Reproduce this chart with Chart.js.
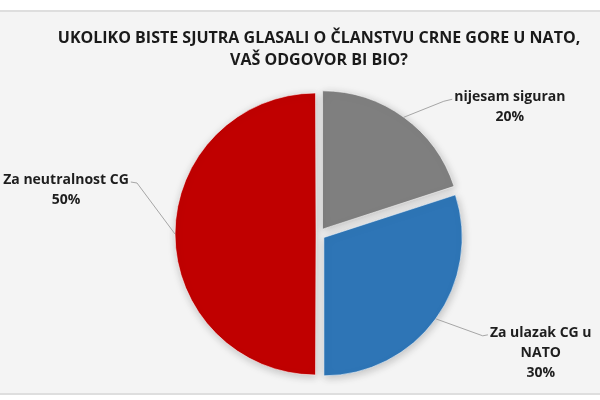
<!DOCTYPE html>
<html>
<head>
<meta charset="utf-8">
<script src="https://cdn.jsdelivr.net/npm/chart.js@4"></script>
<style>
    html, body { margin: 0; padding: 0; background: #fff; }
    #wrap { width: 600px; height: 400px; }
</style>
</head>
<body>
<div id="wrap"><canvas id="pieChart"></canvas></div>
<script>
    // Survey answers (percent)
    const answers = ['nijesam siguran', 'Za ulazak CG u NATO', 'Za neutralnost CG'];
    const shares = [20, 30, 50];
    // label text split over lines, as in the original
    const labelLines = [
        ['nijesam siguran', '20%'],
        ['Za ulazak CG u', 'NATO', '30%'],
        ['Za neutralnost CG', '50%']
    ];
    const sliceColors = ['#7f7f7f', '#2e75b6', '#c00000'];
    const titleLines = ['UKOLIKO BISTE SJUTRA GLASALI O ČLANSTVU CRNE GORE U NATO,', 'VAŠ ODGOVOR BI BIO?'];

    // Background with the thin frame lines
    const backgroundPlugin = {
        id: 'pageBackground',
        beforeDraw(chart) {
            const ctx = chart.ctx;
            ctx.save();
            ctx.fillStyle = '#ffffff';
            ctx.fillRect(0, 0, chart.width, chart.height);
            ctx.fillStyle = '#f4f4f4';
            ctx.fillRect(0, 10, chart.width, 384);
            ctx.fillStyle = '#dedede';
            ctx.fillRect(0, 10, chart.width, 2);
            ctx.fillRect(0, 393, chart.width, 2);
            ctx.restore();
        }
    };

    // Soft shadow under the slices
    const shadowPlugin = {
        id: 'sliceShadow',
        beforeDatasetDraw(chart) {
            const ctx = chart.ctx;
            ctx.save();
            ctx.shadowColor = 'rgba(0,0,0,0.22)';
            ctx.shadowBlur = 8;
            ctx.shadowOffsetX = 1;
            ctx.shadowOffsetY = 2;
        },
        afterDatasetDraw(chart) {
            chart.ctx.restore();
        }
    };

    // Leader lines and labels outside the pie
    // bend: offset of the elbow from the slice edge, text: offset of the text block
    const labelLayout = [
        { bend: [40, -16], text: [106, -20] },
        { bend: [47, 17], text: [105, 14] },
        { bend: [-38, -51], text: [-109, -54] }
    ];
    const outsideLabels = {
        id: 'outsideLabels',
        afterDatasetsDraw(chart) {
            const ctx = chart.ctx;
            const arcs = chart.getDatasetMeta(0).data;
            ctx.save();
            ctx.font = 'bold 14px "Open Sans", sans-serif';
            ctx.textAlign = 'center';
            ctx.textBaseline = 'middle';
            arcs.forEach((arc, i) => {
                const mid = (arc.startAngle + arc.endAngle) / 2;
                // same shift as the arc element uses when drawing an offset slice
                const circ = arc.endAngle - arc.startAngle;
                const base = (arc.options.offset || 0) / 4;
                const off = base + base * (1 - Math.sin(Math.min(Math.PI, circ)));
                const cx = arc.x + Math.cos(mid) * off;
                const cy = arc.y + Math.sin(mid) * off;
                const ex = cx + Math.cos(mid) * arc.outerRadius;
                const ey = cy + Math.sin(mid) * arc.outerRadius;
                const lay = labelLayout[i];
                const bx = ex + lay.bend[0];
                const by = ey + lay.bend[1];
                const tx = ex + lay.text[0];
                const ty = ey + lay.text[1];
                const lines = labelLines[i];
                const w = ctx.measureText(lines[0]).width;
                const endX = lay.text[0] > 0 ? tx - w / 2 - 2 : tx + w / 2 + 2;

                ctx.strokeStyle = '#a6a6a6';
                ctx.lineWidth = 1;
                ctx.beginPath();
                ctx.moveTo(ex, ey);
                ctx.lineTo(bx, by);
                ctx.lineTo(endX, ty + 2);
                ctx.stroke();

                ctx.fillStyle = '#1e1e1e';
                lines.forEach((line, k) => {
                    ctx.fillText(line, tx, ty + k * 20);
                });
            });
            ctx.restore();
        }
    };

    new Chart(document.getElementById('pieChart'), {
        type: 'pie',
        data: {
            labels: answers,
            datasets: [{
                data: shares,
                backgroundColor: sliceColors,
                borderColor: 'rgba(255,255,255,0.55)',
                borderWidth: 1,
                offset: [24, 24, 12],
                radius: 138
            }]
        },
        options: {
            responsive: true,
            maintainAspectRatio: false,
            animation: false,
            layout: { padding: { left: 38, top: 0, bottom: 14 } },
            plugins: {
                legend: { display: false },
                tooltip: { enabled: false },
                title: {
                    display: true,
                    text: titleLines,
                    color: '#1a1a1a',
                    font: { family: '"Open Sans", sans-serif', size: 16, weight: 'bold', lineHeight: 1.375 },
                    padding: { top: 27, bottom: 11 }
                }
            }
        },
        plugins: [backgroundPlugin, shadowPlugin, outsideLabels]
    });
</script>
</body>
</html>
